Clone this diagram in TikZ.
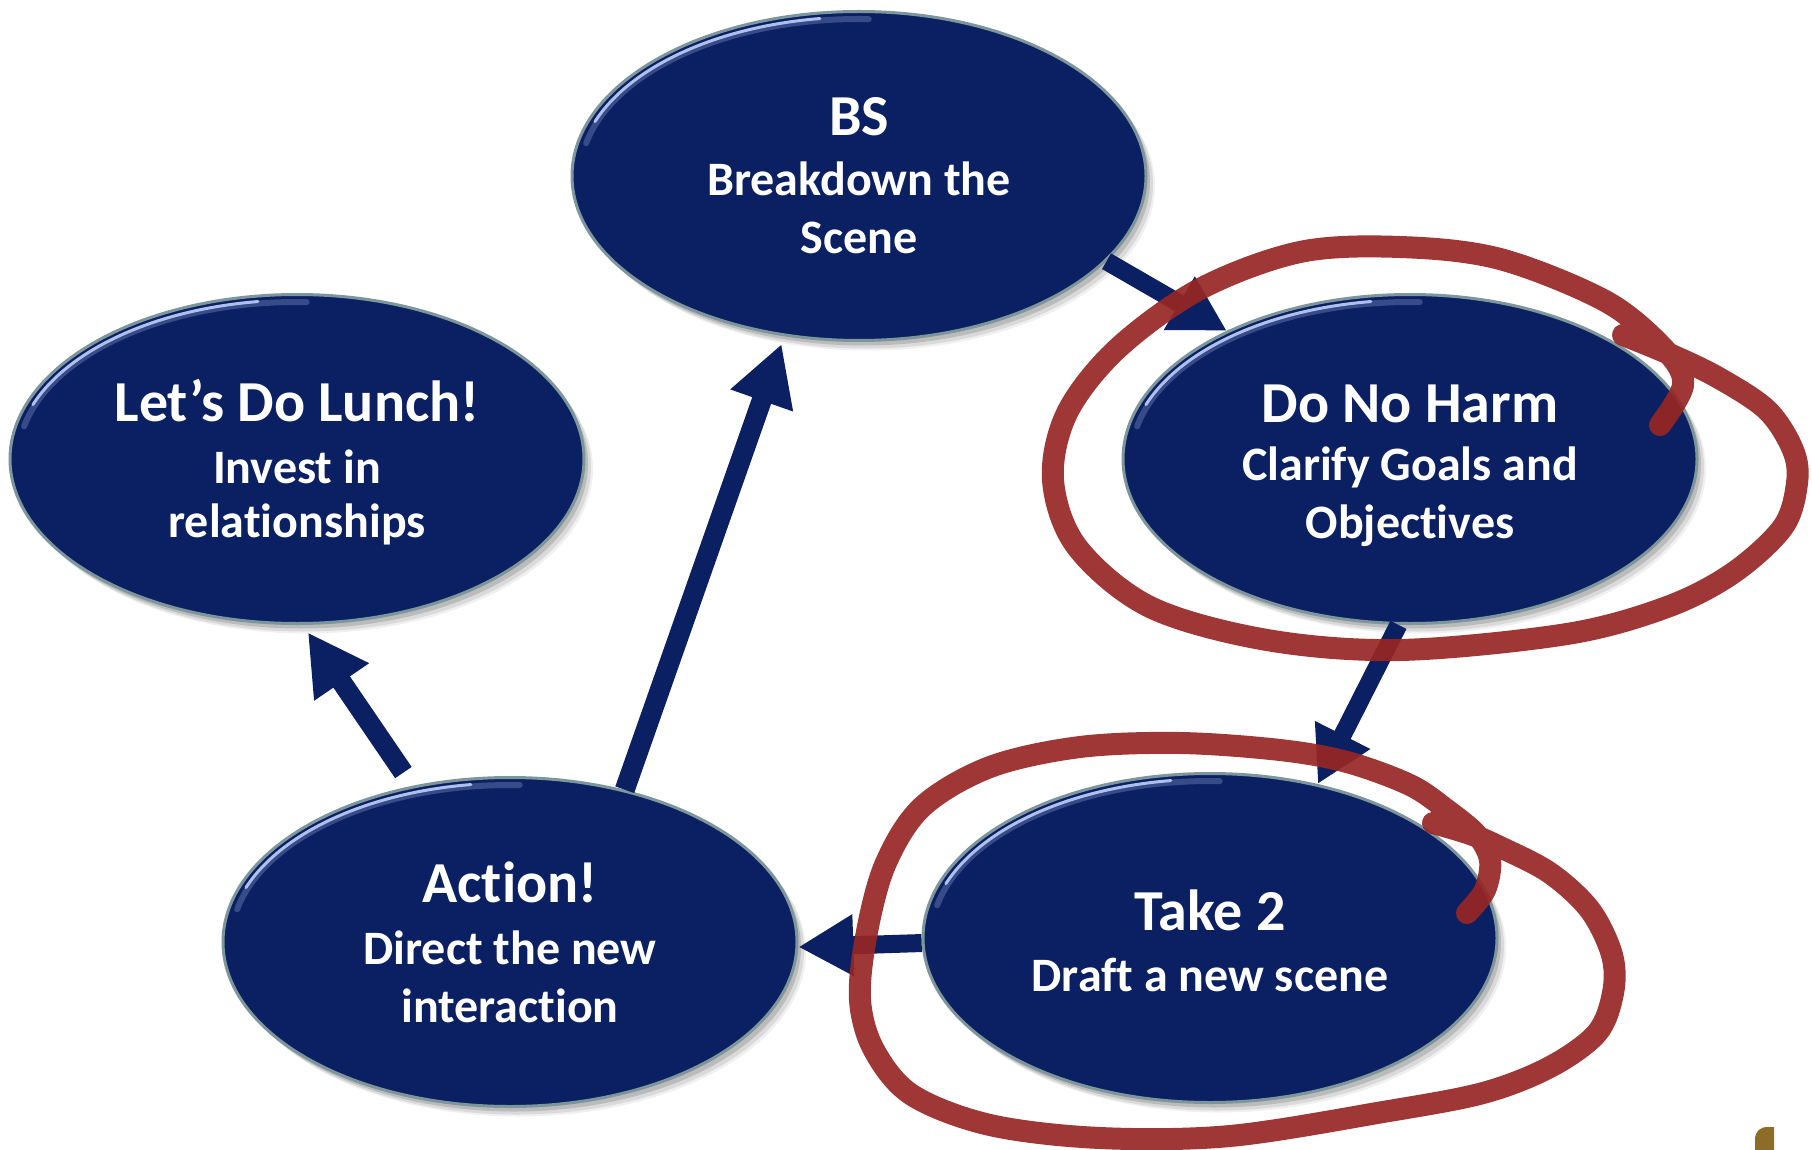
\documentclass[tikz,border=0pt]{standalone}
\usepackage{fontspec}
\setmainfont{Carlito}[Ligatures=NoCommon]
\usetikzlibrary{arrows.meta,shapes.geometric,shadows,backgrounds}

\definecolor{stagenavy}{RGB}{11,32,99}
\definecolor{rimgrey}{RGB}{125,150,155}
\definecolor{rimglow}{RGB}{190,205,250}
\definecolor{penred}{RGB}{150,38,36}
\definecolor{logogold}{RGB}{140,108,38}

\newcommand\stagetitle{\fontsize{58}{64}\selectfont}

\begin{document}
\begin{tikzpicture}[x=1pt,y=-1pt,
  stage/.style={ellipse, fill=stagenavy, draw=rimgrey, line width=3pt,
    minimum width=574pt, minimum height=329pt, inner sep=0pt,
    text=white, align=center, font=\fontsize{48}{58}\selectfont\bfseries,
    drop shadow={shadow xshift=9pt, shadow yshift=-10pt, opacity=0.06, fill=black},
    drop shadow={shadow xshift=7pt, shadow yshift=-8pt, opacity=0.09, fill=black},
    drop shadow={shadow xshift=4pt, shadow yshift=-5pt, opacity=0.14, fill=black}},
  rimlight/.style={draw=rimglow, line width=3pt, line cap=round, opacity=0.9},
  rimsoft/.style={draw=rimglow, line width=6pt, line cap=round, opacity=0.25},
  flow/.style={draw=stagenavy, line width=18pt, -{Triangle[length=55pt,width=58pt]}},
  bigflow/.style={draw=stagenavy, line width=20pt, -{Triangle[length=60pt,width=62pt]}},
  flowshade/.style={draw=black, opacity=0.22, transform canvas={xshift=4pt,yshift=-5pt}},
  penloop/.style={draw=penred, line width=22pt, line cap=round, line join=round, opacity=0.92}
]
\fill[white] (0,0) rectangle (1812,1150);
\useasboundingbox (0,0) rectangle (1812,1150);

% the five stages
\node[stage] (bs) at (859,176) {{\stagetitle BS}\\[2pt] Breakdown the\\ Scene};
\node[stage] (lunch) at (297,459) {{\stagetitle\rule{0pt}{48pt}Let’s Do Lunch!}\\[4pt] Invest in\\[-4pt] relationships};
\node[stage] (dnh) at (1410,459) {{\stagetitle\rule{0pt}{51pt}Do No Harm}\\ Clarify Goals and\\ Objectives};
\node[stage] (take) at (1210,938) {{\stagetitle\rule{0pt}{47pt}Take 2}\\[3pt] Draft a new scene};
\node[stage] (act) at (510,942) {{\stagetitle Action!}\\[4pt] Direct the new\\ interaction};

% light rim on the upper left of each stage
\foreach \n in {bs,lunch,dnh,take,act}{
  \draw[rimsoft] ([shift={(192:279 and 157)}]\n.center)
    arc[start angle=192, end angle=272, x radius=279, y radius=157];
  \draw[rimlight] ([shift={(200:281 and 159)}]\n.center)
    arc[start angle=200, end angle=262, x radius=281, y radius=159];
}

% connectors between the stages
\begin{pgfonlayer}{background}
  \draw[flow,flowshade] (bs.-19.5) -- (dnh.145.2);
  \draw[flow,flowshade] (dnh.-94.5) -- (take.55.1);
  \draw[flow,flowshade] (take.-179) -- (act.-1.2);
  \draw[bigflow,flowshade,shorten >=8pt] (act.53.8) -- (bs.-115.9);
  \draw[bigflow,flowshade,shorten <=16pt,shorten >=9pt] (act.122.6) -- (lunch.-88.7);
\end{pgfonlayer}
\draw[flow] (bs.-19.5) -- (dnh.145.2);
\draw[flow] (dnh.-94.5) -- (take.55.1);
\draw[flow] (take.-179) -- (act.-1.2);
\draw[bigflow,shorten >=8pt] (act.53.8) -- (bs.-115.9);
\draw[bigflow,shorten <=16pt,shorten >=9pt] (act.122.6) -- (lunch.-88.7);

% hand-drawn red loops
\draw[penloop] plot[smooth, tension=0.55] coordinates {(1660,425) (1683,385) (1667,352)
  (1607,302) (1500,259) (1400,247) (1300,252) (1200,289) (1117,349) (1067,413) (1053,480)
  (1077,547) (1150,607) (1267,640) (1400,650) (1567,634) (1667,607) (1733,573) (1783,527)
  (1797,483) (1793,450) (1767,410) (1717,377) (1667,353) (1623,335)};
\draw[penloop] plot[smooth, tension=0.55] coordinates {(1467,913) (1485,890) (1490,860)
  (1477,835) (1447,810) (1410,785) (1347,762) (1280,750) (1180,743) (1080,747) (990,767)
  (922,807) (885,865) (866,937) (860,1000) (874,1050) (912,1095) (990,1125) (1100,1138)
  (1230,1136) (1383,1112) (1483,1093) (1550,1067) (1597,1033) (1613,993) (1612,955)
  (1590,910) (1550,873) (1500,847) (1470,834) (1433,823)};

% corner mark
\fill[logogold] (1755,1150) -- (1755,1140) .. controls (1755,1131) and (1760,1127) .. (1768,1127)
  -- (1774,1127) -- (1774,1150) -- cycle;
\end{tikzpicture}
\end{document}
